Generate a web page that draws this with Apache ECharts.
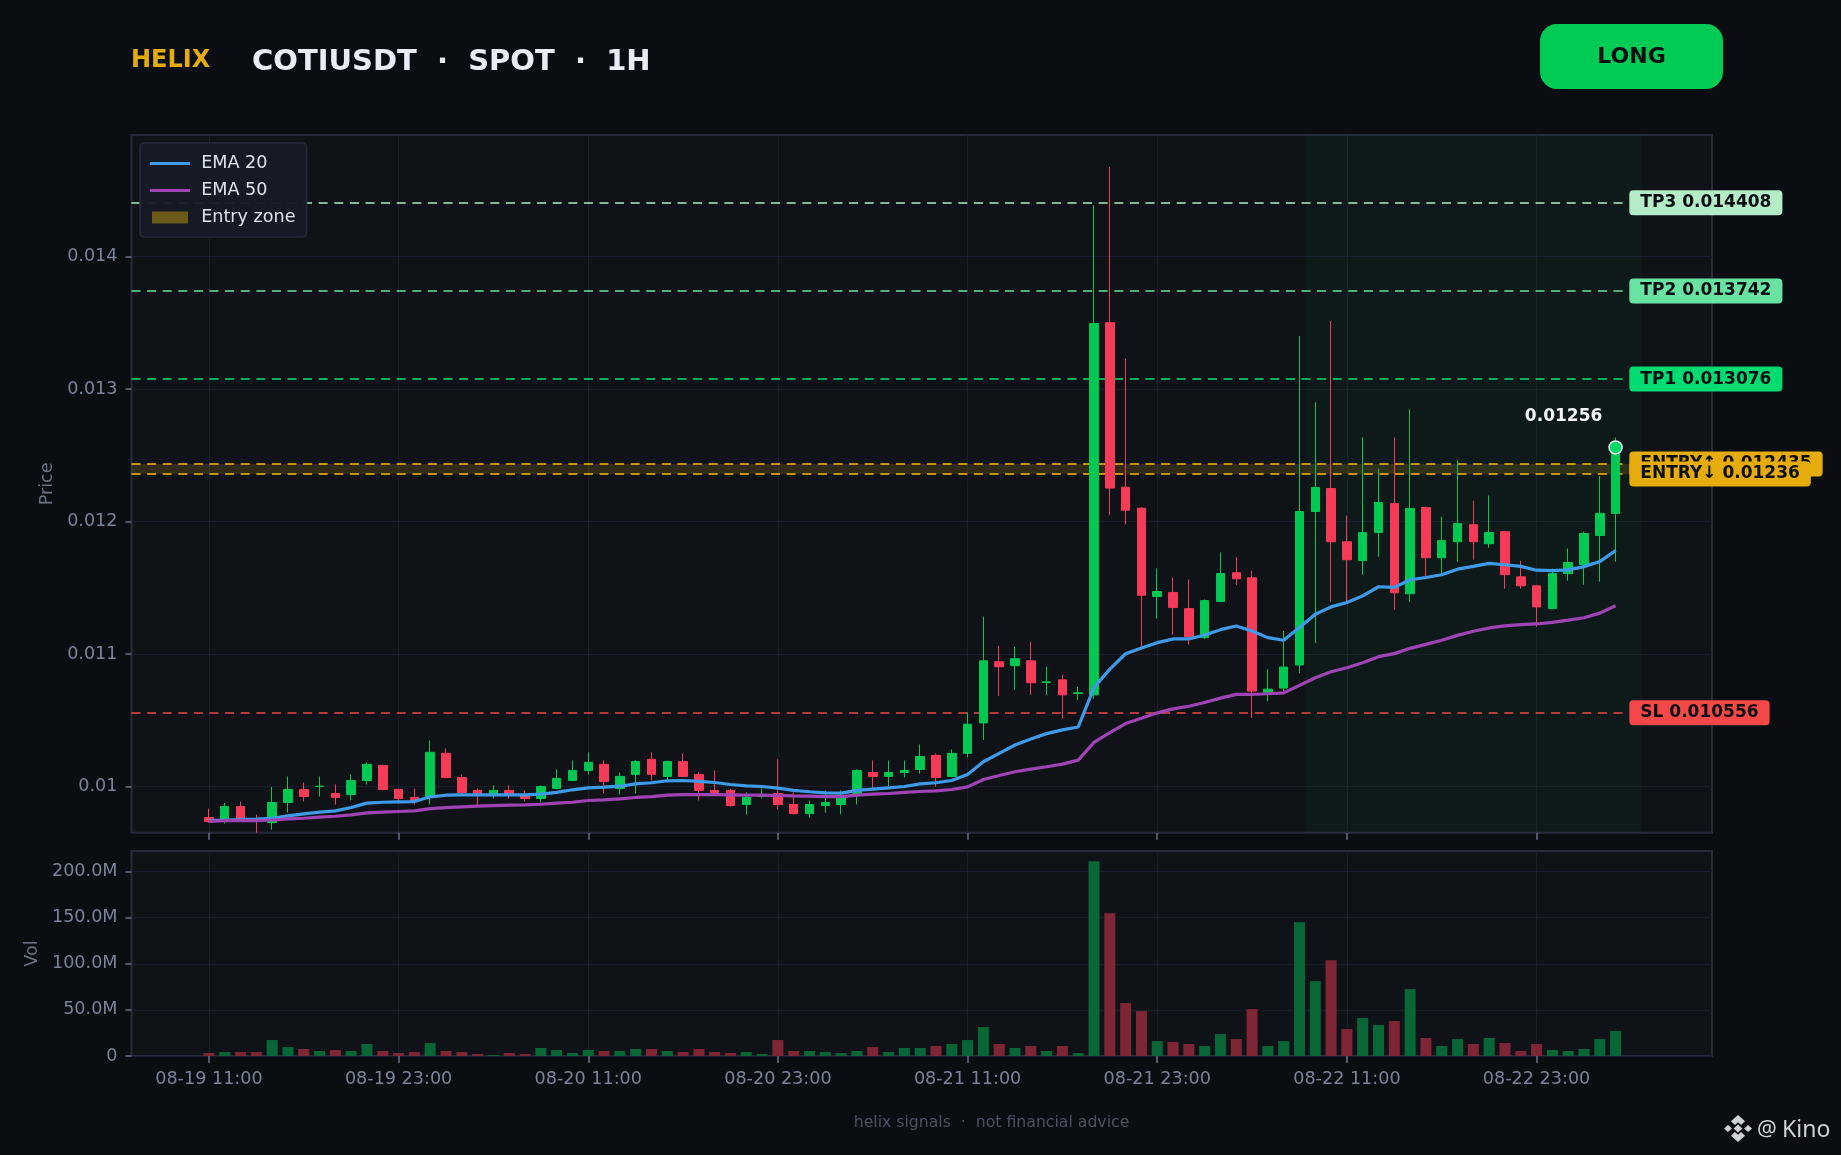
<!DOCTYPE html>
<html><head><meta charset="utf-8">
<style>html,body{margin:0;padding:0;background:#0a0d12}#c{width:1841px;height:1155px}</style>
<script src="https://cdn.jsdelivr.net/npm/echarts@6/dist/echarts.min.js"></script>
</head><body><div id="c"></div>
<script>
const tickPositions=[0,12,24,36,48,60,72,84];
const tickLabels=['08-19 11:00','08-19 23:00','08-20 11:00','08-20 23:00','08-21 11:00','08-21 23:00','08-22 11:00','08-22 23:00'];
const priceTicks=[0.01,0.011,0.012,0.013,0.014];
const volumeTicks=[0,50,100,150,200];
const candleOpen=[.009765,.00975,.009848,.009755,.009727,.009879,.009977,.01,.009947,.009939,.010045,.010159,.009977,.009917,.009917,.01025,.010068,.00997,.009932,.00997,.009939,.009909,.009985,.010045,.010121,.010167,.009985,.010091,.010205,.010076,.010189,.010091,.00997,.00997,.009864,.009927,.009947,.009864,.009795,.009856,.009864,.009947,.010106,.010076,.010106,.010129,.010235,.010076,.01025,.01048,.010942,.010912,.010949,.010785,.010805,.010702,.010692,.013502,.01226,.012101,.011434,.011465,.011343,.011124,.011396,.011614,.011576,.010712,.010743,.010917,.012076,.01225,.011848,.011705,.011917,.012136,.011455,.012106,.011727,.011848,.011977,.011833,.011924,.011583,.011515,.011343,.011607,.011676,.011895,.012062];
const candleClose=[.009735,.009848,.009758,.009747,.009879,.009977,.009924,.010002,.009917,.010045,.010167,.009977,.009909,.009886,.010258,.010068,.009955,.009939,.00997,.009939,.009909,.01,.010061,.010121,.010182,.010038,.010076,.010189,.010091,.010189,.010076,.00997,.009955,.009856,.009917,.009937,.009864,.009795,.009864,.009879,.009932,.010121,.010076,.010106,.010121,.010227,.010068,.01025,.01047,.010949,.010904,.010965,.010783,.01079,.010692,.010707,.013495,.012253,.012086,.011444,.011472,.011351,.011131,.011404,.011608,.011568,.01072,.010735,.010902,.012076,.012258,.011848,.011712,.011917,.012144,.011462,.012098,.011727,.011856,.011985,.011848,.011917,.011599,.011515,.011356,.011607,.011691,.01191,.012062,.01256];
const candleLow=[.009727,.00972,.009742,.009652,.009674,.009803,.009886,.009924,.009864,.009894,.010015,.00997,.009894,.009864,.009864,.010061,.009939,.009848,.009909,.009909,.009886,.009879,.009977,.010045,.010091,.009947,.009939,.009947,.010045,.010045,.01007,.009894,.009939,.009848,.009788,.009909,.009826,.00979,.009765,.009803,.00979,.009864,.009985,.01,.010068,.010098,.01,.01007,.01022,.010351,.010684,.01073,.010692,.010692,.01051,.010654,.010662,.012048,.01198,.011053,.011268,.011146,.011071,.011115,.011392,.011523,.010518,.010644,.01072,.010856,.011083,.011394,.011394,.011599,.011735,.011333,.011394,.011583,.011599,.011697,.011712,.011803,.011492,.011492,.011205,.01134,.011554,.011524,.011547,.011698];
const candleHigh=[.009833,.009876,.009886,.009788,.009997,.010076,.01003,.010076,.010015,.010091,.010182,.010165,.009985,.009985,.010348,.010288,.010091,.009985,.010008,.010008,.00997,.010008,.010129,.010197,.010258,.010197,.010106,.010197,.010258,.010195,.01025,.010106,.010121,.009982,.009955,.009985,.010205,.009955,.009894,.00997,.00997,.010129,.010197,.010197,.010197,.010318,.01025,.01028,.010561,.011283,.011063,.011055,.011093,.010904,.010843,.010752,.014389,.014677,.01323,.012109,.011646,.011578,.011563,.011412,.011768,.011732,.011629,.010886,.011174,.013401,.012901,.013515,.012045,.012636,.012401,.012636,.012848,.012112,.012038,.012462,.012159,.012197,.01193,.011705,.01152,.011645,.011797,.011926,.012342,.012635];
const ema20=[.009742,.009747,.00975,.009753,.00976,.009778,.009793,.009806,.009816,.009841,.009874,.009881,.009884,.009886,.009922,.009934,.009937,.009937,.009937,.009937,.009937,.009942,.009955,.009975,.00999,.009995,.010002,.01002,.010028,.010043,.010045,.010038,.01003,.010015,.010005,.01,.009987,.00997,.00996,.009952,.00995,.00997,.00998,.00999,.01,.01002,.010028,.010045,.010091,.010187,.01025,.010313,.010359,.010399,.010427,.010449,.010747,.010886,.011002,.011045,.011086,.011114,.011114,.011144,.011184,.011212,.011174,.011124,.011104,.0112,.011301,.011356,.011389,.011439,.011508,.011503,.011561,.011578,.011599,.011641,.011662,.011684,.011674,.011662,.011633,.01163,.011635,.01166,.011698,.011782];
const ema50=[.009737,.009742,.009742,.009742,.009747,.009755,.00976,.009768,.009775,.009785,.009801,.009806,.009811,.009816,.009833,.009841,.009846,.009851,.009856,.009859,.009861,.009866,.009874,.009881,.009894,.009899,.009907,.009917,.009924,.009934,.009939,.009939,.009939,.009937,.009934,.009934,.009932,.009929,.009927,.009924,.009924,.009934,.009942,.009947,.009955,.009962,.009967,.009977,.009997,.010053,.010083,.010111,.010131,.010149,.010169,.010199,.010333,.010407,.010475,.010515,.010556,.010586,.010606,.010634,.010667,.010695,.010695,.0107,.010707,.010763,.010821,.010866,.010897,.010934,.01098,.011003,.011043,.011073,.011104,.011141,.011172,.011197,.011212,.011222,.011227,.011239,.011256,.011274,.011309,.011365];
const volumeM=[3.2,4.3,4.3,4.3,17.3,9.7,7.6,5.4,6.5,5.4,13,5.4,3.2,4.3,14,5.4,4.3,2.2,1,3.2,2.2,8.7,6.5,3.2,6.5,5.4,5.4,7.6,7.6,5.4,4.3,7.6,4.3,3.2,4.3,2.2,17.3,5.4,5.4,4.3,3.2,5.4,9.7,4.3,8.7,8.7,10.8,13,17.3,31.4,13,8.7,10.8,5.4,10.8,3.2,211.2,154.9,57.4,48.7,16.2,15.2,13,10.8,23.8,18.4,50.9,10.8,16.2,145.1,81.2,104,29.2,41.2,33.6,37.9,72.6,19.5,10.8,18.4,13,19.5,14.1,5.4,13,6.5,5.4,7.6,18.4,27.1];
const levelNames=['TP3','TP2','TP1','ENTRY↑','ENTRY↓','SL'];
const levelValues=[0.014408,0.013742,0.013076,0.012435,0.01236,0.010556];
const levelText=['0.014408','0.013742','0.013076','0.012435','0.01236','0.010556'];
const lastPrice=0.01256;

const levelLine=['rgba(178,236,198,.75)','rgba(105,227,163,.75)','rgba(0,220,114,.78)','rgba(230,172,12,.82)','rgba(230,172,12,.82)','rgba(244,74,74,.72)'];
const levelFill=['#b3ecc6','#69e3a3','#00dc72','#e6ac0c','#e6ac0c','#f44848'];
const UP='#00c853',DOWN='#f63b58',TXT='#7a8499',GRID='#1a1e2c',EDGE='#262b3a',INK='#0a0d12';
const FONT='"DejaVu Sans"';
const XMIN=-4.9,XMAX=95.1,LABELX=89.87,YMIN=0.009651,YMAX=0.014919;
const LOGO='#cfd2d6';
const DASH=[9,6.6];

const candles=candleOpen.map((o,i)=>[i,o,candleClose[i],candleLow[i],candleHigh[i]]);
const vols=volumeM.map((v,i)=>({value:[i,v],itemStyle:{color:candleClose[i]>=candleOpen[i]?'#096637':'#7f2636'}}));
const yLabel={color:TXT,fontFamily:FONT,fontSize:17.6,margin:14,padding:[6,0,0,0]};
const xTick={show:true,length:7,lineStyle:{color:'#6b7385',width:1.5},customValues:tickPositions};
const yTick=v=>({show:true,length:6,lineStyle:{color:'#6b7385',width:1.5},customValues:v});
const logoPart=pts=>({type:'polygon',shape:{points:pts.map(p=>[1724+p[0]*.875,1115+p[1]*.794])},style:{fill:LOGO}});
const noLine={show:false,onZero:false};

const chart=echarts.init(document.getElementById('c'),null,{renderer:'canvas'});
chart.setOption({
 animation:false,backgroundColor:'#0a0d12',
 title:[
  {text:'HELIX',left:131,top:49,padding:0,textStyle:{color:'#e6ac0c',fontFamily:FONT,fontWeight:'bold',fontSize:24}},
  {text:'COTIUSDT  ·  SPOT  ·  1H',left:252,top:48,padding:0,textStyle:{color:'#e8ecf4',fontFamily:FONT,fontWeight:'bold',fontSize:29}},
  {text:'helix signals  ·  not financial advice',left:991.5,textAlign:'center',top:1115,padding:0,textStyle:{color:'#4b5263',fontFamily:FONT,fontWeight:'normal',fontSize:15.7}}
 ],
 legend:{left:140,top:143,orient:'vertical',z:10,padding:[11.5,11,10.5,10],itemGap:9,itemWidth:40,itemHeight:12,
  backgroundColor:'rgba(22,27,37,.96)',borderColor:EDGE,borderWidth:1.5,borderRadius:4,selectedMode:false,
  textStyle:{color:'#dde3ee',fontFamily:FONT,fontSize:17.6,padding:[0,0,0,6.2]},
  data:[{name:'EMA 20',icon:'path://M0 0H40V3H0Z'},{name:'EMA 50',icon:'path://M0 0H40V3H0Z'},{name:'Entry zone',icon:'path://M0 0H36V12H0Z',itemStyle:{color:'#6b5a18'}}]},
 grid:[
  {left:131.5,top:135,width:1580.5,height:697.7,show:true,backgroundColor:'#0f1318',borderColor:EDGE,borderWidth:2},
  {left:131.5,top:851,width:1580.5,height:205,show:true,backgroundColor:'#0f1318',borderColor:EDGE,borderWidth:2}
 ],
 xAxis:[
  {type:'value',gridIndex:0,min:XMIN,max:XMAX,interval:12,axisLine:noLine,axisTick:xTick,axisLabel:{show:false},splitLine:{show:true,lineStyle:{color:GRID,width:1}}},
  {type:'value',gridIndex:1,min:XMIN,max:XMAX,interval:12,axisLine:noLine,axisTick:xTick,
   axisLabel:{show:true,color:TXT,fontFamily:FONT,fontSize:17.6,margin:14,customValues:tickPositions,formatter:v=>tickLabels[tickPositions.indexOf(v)]||''},
   splitLine:{show:true,lineStyle:{color:GRID,width:1}}}
 ],
 yAxis:[
  {type:'value',gridIndex:0,min:YMIN,max:YMAX,interval:0.001,scale:true,name:'Price',nameLocation:'middle',nameGap:71.5,nameTextStyle:{color:'#6a7385',fontFamily:FONT,fontSize:17.6},
   axisLine:noLine,axisTick:yTick(priceTicks),axisLabel:{...yLabel,customValues:priceTicks,formatter:v=>String(+v.toFixed(3))},splitLine:{show:true,lineStyle:{color:GRID,width:1}}},
  {type:'value',gridIndex:1,min:0,max:222.4,interval:50,name:'Vol',nameLocation:'middle',nameGap:88.5,nameTextStyle:{color:'#6a7385',fontFamily:FONT,fontSize:17.6},
   axisLine:noLine,axisTick:yTick(volumeTicks),axisLabel:{...yLabel,customValues:volumeTicks,formatter:v=>v?v.toFixed(1)+'M':'0'},splitLine:{show:true,lineStyle:{color:GRID,width:1}}}
 ],
 series:[
  {name:'Levels',type:'line',xAxisIndex:0,yAxisIndex:0,data:[],z:1,silent:true,
   markArea:{silent:true,z:1,itemStyle:{color:'rgba(0,200,83,.04)'},data:[[{xAxis:69.4,yAxis:YMIN},{xAxis:90.65,yAxis:YMAX}]]},
   markLine:{silent:true,z:1,symbol:'none',animation:false,lineStyle:{type:DASH,width:2},
    data:levelValues.map((v,i)=>[
     {xAxis:XMIN,yAxis:v,lineStyle:{color:levelLine[i],width:2,type:DASH},
      label:{show:true,position:'end',distance:0,formatter:levelNames[i]+' '+levelText[i],color:INK,fontFamily:FONT,fontWeight:'bold',fontSize:17,backgroundColor:levelFill[i],borderRadius:4,padding:[4,11,4,11]}},
     {xAxis:LABELX,yAxis:v}])}},
  {name:'Entry zone',type:'line',xAxisIndex:0,yAxisIndex:0,data:[],z:1,silent:true,symbol:'none',itemStyle:{color:'#6b5a18'},lineStyle:{color:'#6b5a18'},
   markArea:{silent:true,z:1,itemStyle:{color:'rgba(230,172,12,.16)'},data:[[{xAxis:XMIN,yAxis:levelValues[4]},{xAxis:LABELX,yAxis:levelValues[3]}]]}},
  {name:'Price',type:'candlestick',xAxisIndex:0,yAxisIndex:0,data:candles,z:3,barWidth:9,silent:true,
   itemStyle:{color:UP,color0:DOWN,borderColor:UP,borderColor0:DOWN,borderColorDoji:UP,borderWidth:1}},
  {name:'EMA 20',type:'line',xAxisIndex:0,yAxisIndex:0,data:ema20.map((v,i)=>[i,v]),z:4,symbol:'none',silent:true,itemStyle:{color:'#3d9be9'},lineStyle:{color:'#3d9be9',width:3.2}},
  {name:'EMA 50',type:'line',xAxisIndex:0,yAxisIndex:0,data:ema50.map((v,i)=>[i,v]),z:4,symbol:'none',silent:true,itemStyle:{color:'#a044b5'},lineStyle:{color:'#a044b5',width:3.2}},
  {name:'Last',type:'scatter',xAxisIndex:0,yAxisIndex:0,z:5,silent:true,symbolSize:13,data:[[candleClose.length-1,lastPrice]],
   itemStyle:{color:'#00d964',borderColor:'#eef1f7',borderWidth:1.5,opacity:1},
   label:{show:true,position:'top',offset:[-52,-10],formatter:'0.01256',color:'#f2f4f9',fontFamily:FONT,fontWeight:'bold',fontSize:17}},
  {name:'Volume',type:'bar',xAxisIndex:1,yAxisIndex:1,data:vols,barWidth:11,silent:true}
 ],
 graphic:[
  {type:'group',silent:true,children:[
   {type:'rect',shape:{x:1540,y:24,width:183,height:65,r:17},style:{fill:'#00cc55'}},
   {type:'text',style:{x:1631.5,y:57.5,text:'LONG',fill:INK,font:'bold 22px "DejaVu Sans"',textAlign:'center',textVerticalAlign:'middle'}},
   logoPart([[16,0],[24,8],[19.5,12.5],[16,9],[12.5,12.5],[8,8]]),
   logoPart([[16,34],[24,26],[19.5,21.5],[16,25],[12.5,21.5],[8,26]]),
   logoPart([[16,12],[21,17],[16,22],[11,17]]),
   logoPart([[4.5,12.5],[9,17],[4.5,21.5],[0,17]]),
   logoPart([[27.5,12.5],[32,17],[27.5,21.5],[23,17]]),
   {type:'text',style:{x:1757,y:1130,text:'@',fill:LOGO,font:'22px "Noto Sans"',textAlign:'left',textVerticalAlign:'middle'}},
   {type:'text',style:{x:1782,y:1130,text:'Kino',fill:LOGO,font:'23px "Noto Sans"',textAlign:'left',textVerticalAlign:'middle'}}
  ]}
 ]
});
</script></body></html>
